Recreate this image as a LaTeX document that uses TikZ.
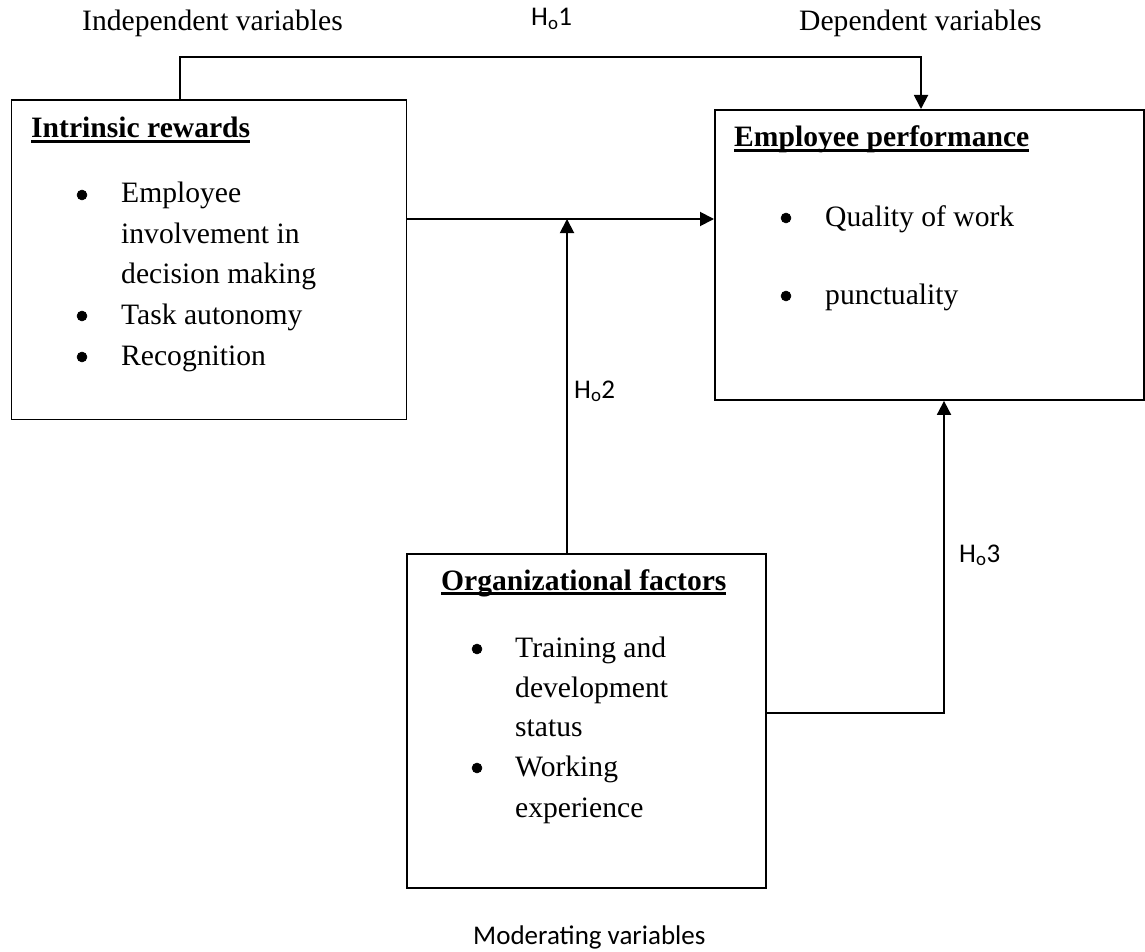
\documentclass[tikz,border=0pt]{standalone}
\usepackage{fontspec}
\setmainfont{Liberation Serif}
\newfontfamily\calfont{Carlito}
\usetikzlibrary{arrows.meta}
\newcommand{\thickul}[1]{\setbox0\hbox{#1}\rlap{\rule[-4.6pt]{\wd0}{2.4pt}}\box0}
\tikzset{
  box/.style={draw, line width=1.9pt, anchor=north west, inner sep=0pt},
  txt/.style={anchor=base west, inner sep=0pt, font=\fontsize{29.6pt}{40pt}\selectfont},
  head/.style={txt, font=\fontsize{29.6pt}{40pt}\selectfont\bfseries},
  lbl/.style={anchor=base west, inner sep=0pt, font=\calfont\fontsize{27pt}{32pt}\selectfont},
  dot/.style={circle, draw=black, fill=black, line width=0.5pt, inner sep=0pt, minimum size=10pt},
  conn/.style={line width=1.9pt},
  arr/.style={conn, -{Triangle[length=14pt,width=14pt]}}
}
\begin{document}
\begin{tikzpicture}[x=1pt,y=-1pt]
\useasboundingbox (0,0) rectangle (1145,952);
% boxes
\node[box, minimum width=395pt, minimum height=319pt] (b1) at (10.5,99.5) {};
\node[box, minimum width=429pt, minimum height=290pt] (b2) at (714,109) {};
\node[box, minimum width=359pt, minimum height=334pt] (b3) at (406,553) {};
% top labels
\node[txt] (iv) at (82,31) {Independent variables};
\node[txt] (dv) at (799,31) {Dependent variables};
\node[lbl] (h1) at (531,26) {H\textsubscript{o}1};
\node[lbl] (h2) at (574,398) {H\textsubscript{o}2};
\node[lbl] (h3) at (959,562) {H\textsubscript{o}3};
\node[lbl] (mv) at (473,944) {Moderating variables};
% box 1 content
\node[head] (t1) at (31,138) {\thickul{Intrinsic rewards}};
\node[dot] (b1a) at (82,195) {};
\node[txt] (b1at) at (121,203) {Employee};
\node[txt] (b1al) at (121,243) {involvement in};
\node[txt] (b1am) at (121,283) {decision making};
\node[dot] (b1b) at (82,316) {};
\node[txt] (b1bt) at (121,324) {Task autonomy};
\node[dot] (b1c) at (82,357) {};
\node[txt] (b1ct) at (121,365) {Recognition};
% box 2 content
\node[head] (t2) at (734,147) {\thickul{Employee performance}};
\node[dot] (b2a) at (786,218) {};
\node[txt] (b2at) at (825,226) {Quality of work};
\node[dot] (b2b) at (786,296) {};
\node[txt] (b2bt) at (825,304) {punctuality};
% box 3 content
\node[head] (t3) at (441,590) {\thickul{Organizational factors}};
\node[dot] (b3a) at (477,649) {};
\node[txt] (b3at) at (515,657) {Training and};
\node[txt] (b3al) at (515,697) {development};
\node[txt] (b3am) at (515,736) {status};
\node[dot] (b3b) at (477,768) {};
\node[txt] (b3bt) at (515,776) {Working};
\node[txt] (b3bl) at (515,817) {experience};
% connector coordinates
\coordinate (c1a) at (180,57);
\coordinate (c1b) at (921,57);
\coordinate (cm) at (0,219);
\coordinate (cv) at (567,0);
\coordinate (ch) at (944,713);
% connectors
\draw[arr] (b1.north -| c1a) -- (c1a) -- (c1b) -- (b2.north -| c1b);
\draw[arr] (b1.east |- cm) -- (b2.west |- cm);
\draw[arr] (b3.north -| cv) -- (cv |- cm);
\draw[arr] (b3.east |- ch) -- (ch) -- (b2.south -| ch);
\end{tikzpicture}
\end{document}
